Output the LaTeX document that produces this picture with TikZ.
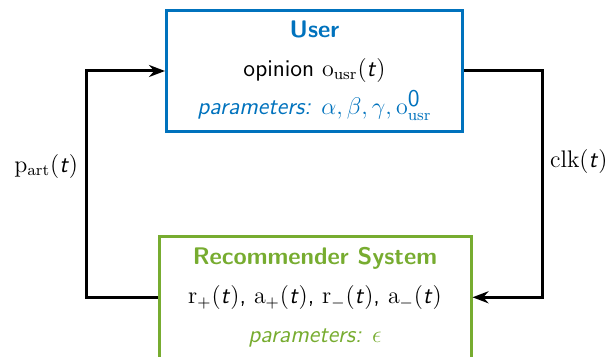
\documentclass[tikz,border=0pt]{standalone}
\usepackage{tikz}
\usetikzlibrary{arrows.meta}

\definecolor{usrblue}{RGB}{0,114,189}
\definecolor{recgreen}{RGB}{119,172,48}
\newcommand{\tsym}{\textsf{\textit{t}}}

\tikzset{
  block/.style={draw, line width=1.5pt, align=center, font=\sffamily\fontsize{12}{19.3}\selectfont},
  link/.style={line width=1.5pt, -{Stealth[length=8pt,width=6pt]}},
}

\begin{document}
\begin{tikzpicture}[x=0.5pt,y=-0.5pt]
\useasboundingbox (0,0) rectangle (612,357);

% user block
\node[block, draw=usrblue, minimum width=148pt, minimum height=60.5pt] (user) at (314.5,71)
  {{\color{usrblue}\bfseries User}\\
   opinion $\mathrm{o}_{\mathrm{usr}}(\tsym)$\\
   {\color{usrblue}\itshape parameters: $\alpha,\beta,\gamma,\mathrm{o}^{\textsf{\upshape 0}}_{\mathrm{usr}}$}};

% recommender block
\node[block, draw=recgreen, minimum width=156pt, minimum height=61pt] (rec) at (315,297.3)
  {{\color{recgreen}\bfseries Recommender System}\\
   $\mathrm{r}_{+}(\tsym)$, $\mathrm{a}_{+}(\tsym)$, $\mathrm{r}_{-}(\tsym)$, $\mathrm{a}_{-}(\tsym)$\\
   {\color{recgreen}\itshape parameters: $\epsilon$}};

% feedback loop
\draw[link] (rec.west) -- ++(-71.2,0) |- node[pos=0.29,left,font=\fontsize{12}{14}\selectfont]{$\mathrm{p}_{\mathrm{art}}(\tsym)$} (user.west);
\draw[link] (user.east) -- ++(78,0) |- node[pos=0.2,right,font=\fontsize{12}{14}\selectfont]{$\mathrm{clk}(\tsym)$} (rec.east);

\end{tikzpicture}
\end{document}
